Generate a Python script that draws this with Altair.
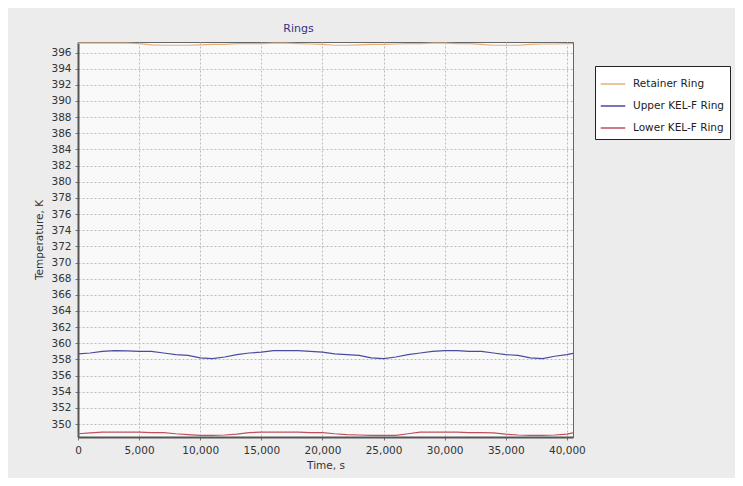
import altair as alt
import pandas as pd

time_s = [0, 1000, 2000, 3000, 4000, 5000, 6000, 7000, 8000, 9000, 10000,
          11000, 12000, 13000, 14000, 15000, 16000, 17000, 18000, 19000, 20000,
          21000, 22000, 23000, 24000, 25000, 26000, 27000, 28000, 29000, 30000,
          31000, 32000, 33000, 34000, 35000, 36000, 37000, 38000, 39000, 40000, 40500]

retainer = [397.15, 397.15, 397.15, 397.15, 397.15, 397.1, 396.95, 396.9, 396.9, 396.9, 396.95,
            397.0, 397.0, 397.1, 397.1, 397.1, 397.15, 397.15, 397.1, 397.05, 397.0,
            396.9, 396.9, 396.95, 397.0, 397.0, 397.05, 397.1, 397.1, 397.15, 397.15,
            397.1, 397.1, 397.0, 396.9, 396.9, 396.9, 397.0, 397.05, 397.05, 397.1, 397.1]

upper_kelf = [358.7, 358.8, 359.0, 359.1, 359.05, 359.0, 359.0, 358.8, 358.6, 358.5, 358.2,
              358.1, 358.3, 358.6, 358.8, 358.9, 359.1, 359.1, 359.1, 359.0, 358.9,
              358.7, 358.6, 358.5, 358.2, 358.1, 358.3, 358.6, 358.8, 359.0, 359.1,
              359.1, 359.0, 359.0, 358.8, 358.6, 358.5, 358.2, 358.1, 358.4, 358.6, 358.75]

lower_kelf = [348.8, 348.9, 349.0, 349.0, 349.0, 349.0, 348.95, 348.95, 348.8, 348.7, 348.6,
              348.6, 348.65, 348.75, 348.95, 349.0, 349.0, 349.0, 349.0, 348.95, 348.95,
              348.8, 348.7, 348.65, 348.6, 348.6, 348.6, 348.8, 349.0, 349.0, 349.0,
              349.0, 348.95, 348.95, 348.9, 348.75, 348.65, 348.6, 348.6, 348.65, 348.75, 348.9]

series_names = ["Retainer Ring", "Upper KEL-F Ring", "Lower KEL-F Ring"]
series_colors = ["#e6b07a", "#4a4aa0", "#c0505e"]

rows = []
for name, vals in zip(series_names, [retainer, upper_kelf, lower_kelf]):
    for t, v in zip(time_s, vals):
        rows.append({"Time": t, "Temperature": v, "Series": name})
df = pd.DataFrame(rows)

font = "DejaVu Sans"

chart = alt.Chart(df).mark_line(strokeWidth=1.2, clip=True).encode(
    x=alt.X("Time:Q",
            scale=alt.Scale(domain=[0, 40500], nice=False, zero=False),
            axis=alt.Axis(title="Time, s", values=list(range(0, 40001, 5000)),
                          format=",d", labelFontSize=10.5, titleFontSize=10.5,
                          titleFontWeight="normal", labelColor="#333", titleColor="#333",
                          tickSize=3, labelPadding=5, titlePadding=5,
                          domainColor="#555", domainWidth=2, tickColor="#777",
                          gridColor="#bbbbbb", gridDash=[2, 2], labelFlush=False)),
    y=alt.Y("Temperature:Q",
            scale=alt.Scale(domain=[348.4, 397.3], nice=False, zero=False),
            axis=alt.Axis(title="Temperature, K", values=list(range(350, 397, 2)),
                          labelFontSize=10.5, titleFontSize=10.5, titleFontWeight="normal",
                          labelColor="#333", titleColor="#333", tickSize=3,
                          labelPadding=4, titlePadding=6,
                          domainColor="#555", domainWidth=2, tickColor="#777",
                          gridColor="#bbbbbb", gridDash=[2, 2])),
    color=alt.Color("Series:N",
                    scale=alt.Scale(domain=series_names, range=series_colors),
                    legend=alt.Legend(title=None, orient="none", legendX=517, legendY=24,
                                      symbolType="stroke", symbolSize=600,
                                      symbolStrokeWidth=1.5, labelFontSize=10.5,
                                      labelColor="#222", fillColor="white",
                                      strokeColor="#222", padding=5, rowPadding=3,
                                      labelOffset=7)),
).properties(
    width=495,
    height=395,
    title=alt.TitleParams("Rings", fontSize=11, fontWeight="normal", color="#333380",
                          offset=8, dx=-27, font=font),
    autosize=alt.AutoSizeParams(type="none"),
    padding={"left": 70, "top": 34, "right": 162, "bottom": 41},
    background="#ececec",
).configure(
    font=font
).configure_view(
    fill="#f9f9f9", stroke="#666", strokeWidth=1
)

chart.save("out.html", embed_options={"renderer": "svg", "actions": False})
